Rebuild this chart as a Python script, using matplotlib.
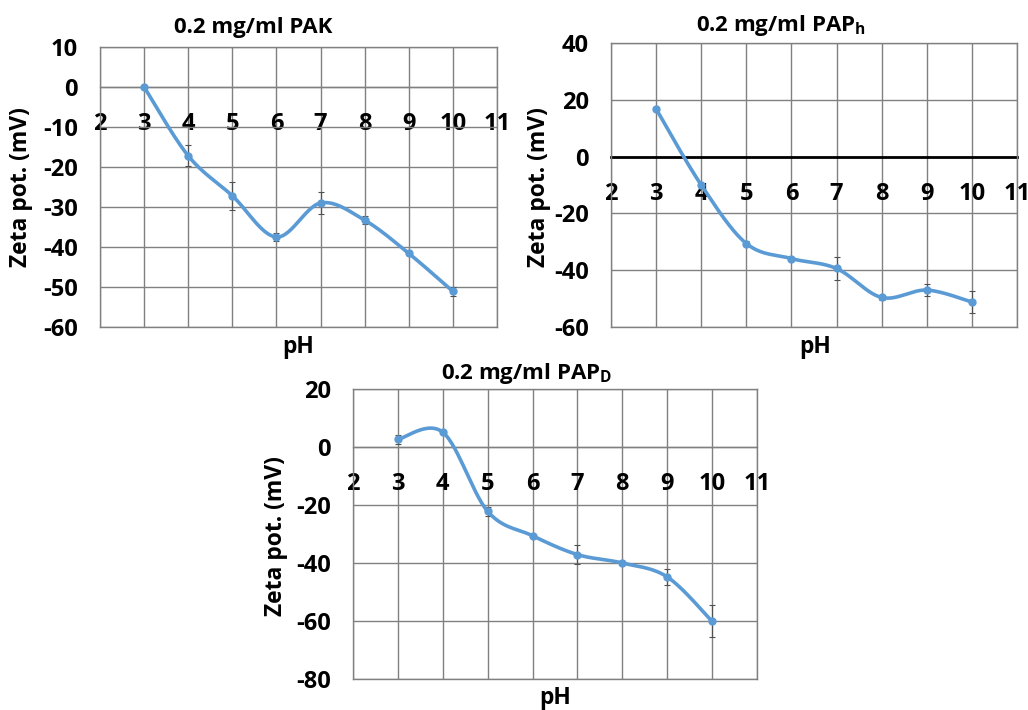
import numpy as np
import matplotlib
matplotlib.use("Agg")
import matplotlib.pyplot as plt

plt.rcParams['font.family'] = ['Open Sans', 'DejaVu Sans']
plt.rcParams['font.weight'] = 'bold'
plt.rcParams['axes.unicode_minus'] = False
plt.rcParams['mathtext.fontset'] = 'custom'
plt.rcParams['mathtext.rm'] = 'Open Sans:bold'
plt.rcParams['mathtext.bf'] = 'Open Sans:bold'

ph = [3, 4, 5, 6, 7, 8, 9, 10]

# zeta potential (mV) and error bars
pak = [0, -17.2, -27.2, -37.5, -29.0, -33.3, -41.6, -51.1]
pak_err = [0.3, 2.6, 3.5, 1.1, 2.8, 1.0, 0.3, 1.1]

paph = [16.8, -10.0, -30.6, -35.9, -39.4, -49.6, -47.0, -51.2]
paph_err = [0.5, 0.5, 0.8, 0.5, 3.9, 1.0, 2.0, 3.8]

papd = [2.6, 5.1, -22.2, -30.6, -37.1, -40.0, -44.8, -60.1]
papd_err = [1.4, 0.5, 1.5, 0.5, 3.4, 0.5, 2.9, 5.5]

BLUE = "#5B9BD5"
GRID = "#808080"


def smooth(x, y, n=30):
    # excel style smoothed line (catmull-rom bezier)
    x = np.asarray(x, float)
    y = np.asarray(y, float)
    px = np.concatenate([[x[0]], x, [x[-1]]])
    py = np.concatenate([[y[0]], y, [y[-1]]])
    xs, ys = [], []
    t = np.linspace(0, 1, n)
    for i in range(1, len(px) - 2):
        p0 = np.array([px[i], py[i]])
        p3 = np.array([px[i + 1], py[i + 1]])
        p1 = p0 + (np.array([px[i + 1], py[i + 1]]) - np.array([px[i - 1], py[i - 1]])) / 6
        p2 = p3 - (np.array([px[i + 2], py[i + 2]]) - np.array([px[i], py[i]])) / 6
        b = ((1 - t) ** 3)[:, None] * p0 + (3 * (1 - t) ** 2 * t)[:, None] * p1 \
            + (3 * (1 - t) * t ** 2)[:, None] * p2 + (t ** 3)[:, None] * p3
        xs.extend(b[:, 0])
        ys.extend(b[:, 1])
    return xs, ys


def panel(ax, y, err, ylim, ystep, zero_color, zero_lw):
    ax.set_xlim(2, 11)
    ax.set_ylim(*ylim)
    ax.set_xticks(range(2, 12))
    ax.set_yticks(np.arange(ylim[0], ylim[1] + 1, ystep))
    ax.grid(True, color=GRID, linewidth=1.0)
    ax.set_axisbelow(True)
    for s in ['top', 'left', 'right']:
        ax.spines[s].set_color(GRID)
        ax.spines[s].set_linewidth(1.0)
    ax.spines['bottom'].set_position(('data', 0))
    ax.spines['bottom'].set_color(zero_color)
    ax.spines['bottom'].set_linewidth(zero_lw)
    ax.spines['bottom'].set_zorder(1.5)
    ax.axhline(ylim[0], color=GRID, linewidth=1.0, clip_on=False, zorder=0.5)
    ax.tick_params(axis='both', length=0, labelsize=17)
    ax.tick_params(axis='x', pad=18)
    ax.tick_params(axis='y', pad=16)
    for lab in ax.get_xticklabels() + ax.get_yticklabels():
        lab.set_fontweight('bold')
    ax.errorbar(ph, y, yerr=err, fmt='none', ecolor='#505050', elinewidth=0.8,
                capsize=2.5, capthick=0.8, zorder=2)
    sx, sy = smooth(ph, y)
    ax.plot(sx, sy, color=BLUE, linewidth=2.6, zorder=3, solid_capstyle='round')
    ax.plot(ph, y, 'o', color=BLUE, markersize=5, zorder=4)


fig = plt.figure(figsize=(10.28, 7.10), dpi=100)

ax1 = fig.add_axes([100 / 1028, 1 - 327 / 710, 397 / 1028, 280 / 710])
panel(ax1, pak, pak_err, (-60, 10), 10, GRID, 1.0)

ax2 = fig.add_axes([611 / 1028, 1 - 327 / 710, 406 / 1028, 284 / 710])
panel(ax2, paph, paph_err, (-60, 40), 20, "black", 2.0)

ax3 = fig.add_axes([353 / 1028, 1 - 679 / 710, 404 / 1028, 290 / 710])
panel(ax3, papd, papd_err, (-80, 20), 20, GRID, 1.0)

# titles and axis labels
tkw = dict(fontsize=16, fontweight='bold', ha='center', va='center')
fig.text(253 / 1028, 1 - 28 / 710, "0.2 mg/ml PAK", **tkw)
fig.text(781 / 1028, 1 - 25 / 710, r"0.2 mg/ml PAP$_\mathrm{h}$", **tkw)
fig.text(527 / 1028, 1 - 373 / 710, r"0.2 mg/ml PAP$_\mathrm{D}$", **tkw)

lkw = dict(fontsize=16.5, fontweight='bold', ha='center', va='center')
fig.text(298 / 1028, 1 - 347 / 710, "pH", **lkw)
fig.text(815 / 1028, 1 - 347 / 710, "pH", **lkw)
fig.text(555 / 1028, 1 - 698 / 710, "pH", **lkw)
fig.text(21 / 1028, 1 - 187 / 710, "Zeta pot. (mV)", rotation=90, **lkw)
fig.text(539 / 1028, 1 - 187 / 710, "Zeta pot. (mV)", rotation=90, **lkw)
fig.text(276 / 1028, 1 - 536 / 710, "Zeta pot. (mV)", rotation=90, **lkw)

fig.savefig("out.png", dpi=100, facecolor="white")
